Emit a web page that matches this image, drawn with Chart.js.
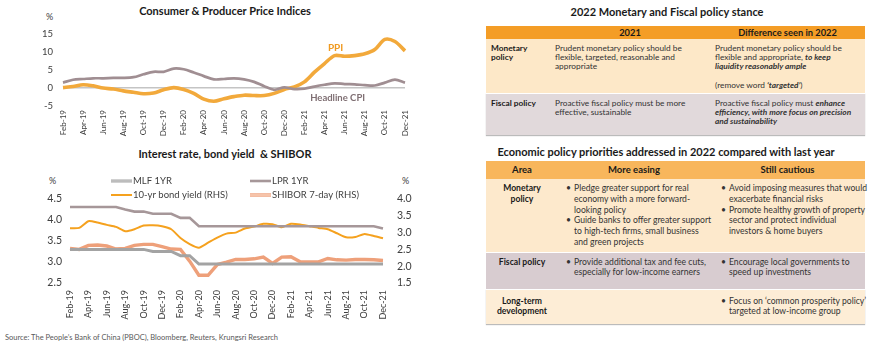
<!DOCTYPE html>
<html>
<head>
<meta charset="utf-8">
<script src="https://cdn.jsdelivr.net/npm/chart.js@4.4.1/dist/chart.umd.min.js"></script>
<style>
  html,body{margin:0;padding:0;background:#fff;}
  body{width:870px;height:348px;position:relative;overflow:hidden;font-family:Lato,'Open Sans',sans-serif;color:#262626;}
  .abs{position:absolute;white-space:nowrap;}
  .ctitle{font-weight:bold;font-size:11px;color:#1a1a1a;text-align:center;}
  .ttitle{font-size:11px;font-weight:bold;color:#1a1a1a;text-align:center;}
  .pct{font-size:9px;color:#404040;}
  table{border-collapse:collapse;table-layout:fixed;position:absolute;}
  td,th{vertical-align:top;white-space:nowrap;padding:0;}
  #tb1 td,#tb1 th{font-size:8.3px;line-height:9.2px;color:#333;}
  #tb1 th{font-size:9.3px;font-weight:bold;color:#1a1a1a;vertical-align:middle;text-align:center;line-height:12px;}
  #tb1 td{padding:5px 0 0 5px;}
  #tb2 td,#tb2 th{font-size:8.6px;line-height:10.8px;color:#333;}
  #tb2 th{font-size:9.5px;font-weight:bold;color:#1a1a1a;vertical-align:middle;text-align:center;}
  #tb2 td.a{text-align:center;font-weight:bold;color:#1a1a1a;padding-top:4px;}
  #tb2 td.c2{padding:4px 0 0 8px;}
  #tb2 td.c3{padding:4px 0 0 11px;}
  .b{position:relative;padding-left:8px;}
  .b span{position:absolute;left:0;top:0;}
</style>
</head>
<body>

<div class="abs ctitle" style="left:15px;top:4px;width:420px;">Consumer &amp; Producer Price Indices</div>
<div class="abs pct" style="left:46px;top:11px;">%</div>
<div class="abs" style="left:0;top:0;width:435px;height:145px;"><canvas id="c1" width="435" height="145"></canvas></div>

<div class="abs ctitle" style="left:15px;top:147px;width:420px;">Interest rate, bond yield &nbsp;&amp; SHIBOR</div>
<div class="abs pct" style="left:49px;top:175px;">%</div>
<div class="abs pct" style="left:402px;top:175px;">%</div>
<div class="abs" style="left:0;top:165px;width:435px;height:160px;"><canvas id="c2" width="435" height="160"></canvas></div>

<div class="abs" style="left:5px;top:333px;font-size:7.5px;color:#595959;">Source: The People’s Bank of China (PBOC), Bloomberg, Reuters, Krungsri Research</div>

<div class="abs ttitle" style="left:450px;top:5px;width:434px;">2022 Monetary and Fiscal policy stance</div>
<table id="tb1" style="left:486px;top:26px;width:379px;">
  <colgroup><col style="width:64px"><col style="width:160px"><col style="width:155px"></colgroup>
  <tr style="height:13px;background:#f49d26;"><th></th><th>2021</th><th>Difference seen in 2022</th></tr>
  <tr style="height:54px;background:#fde8c8;">
    <td><b style="color:#1a1a1a">Monetary<br>policy</b></td>
    <td>Prudent monetary policy should be<br>flexible, targeted, reasonable and<br>appropriate</td>
    <td>Prudent monetary policy should be<br>flexible and appropriate, <b><i>to keep</i></b><br><b><i>liquidity reasonably ample</i></b><br><br>(remove word <b><i>‘targeted’</i></b>)</td>
  </tr>
  <tr style="height:42px;background:#e1d9db;border-top:1px solid #fff;box-shadow:0 1px 1px #bbb;">
    <td><b style="color:#1a1a1a">Fiscal policy</b></td>
    <td>Proactive fiscal policy must be more<br>effective, sustainable</td>
    <td>Proactive fiscal policy must <b><i>enhance</i></b><br><b><i>efficiency, with more focus on precision</i></b><br><b><i>and sustainability</i></b></td>
  </tr>
</table>

<div class="abs ttitle" style="left:449px;top:145px;width:434px;">Economic policy priorities addressed in 2022 compared with last year</div>
<table id="tb2" style="left:486px;top:161px;width:379px;">
  <colgroup><col style="width:72px"><col style="width:152px"><col style="width:155px"></colgroup>
  <tr style="height:18px;background:#f8b65c;"><th>Area</th><th>More easing</th><th>Still cautious</th></tr>
  <tr style="height:73px;background:#fde9cc;">
    <td class="a">Monetary<br>policy</td>
    <td class="c2"><div class="b"><span>•</span>Pledge greater support for real<br>economy with a more forward-<br>looking policy</div><div class="b"><span>•</span>Guide banks to offer greater support<br>to high-tech firms, small business<br>and green projects</div></td>
    <td class="c3"><div class="b"><span>•</span>Avoid imposing measures that would<br>exacerbate financial risks</div><div class="b"><span>•</span>Promote healthy growth of property<br>sector and protect individual<br>investors &amp; home buyers</div></td>
  </tr>
  <tr style="height:37px;background:#d8ccd0;border-top:1px solid #fff;">
    <td class="a">Fiscal policy</td>
    <td class="c2"><div class="b"><span>•</span>Provide additional tax and fee cuts,<br>especially for low-income earners</div></td>
    <td class="c3"><div class="b"><span>•</span>Encourage local governments to<br>speed up investments</div></td>
  </tr>
  <tr style="height:35px;background:#fdedd6;border-top:1px solid #fff;box-shadow:0 1px 1px #bbb;">
    <td class="a" style="padding-top:6px;">Long-term<br>development</td>
    <td class="c2"></td>
    <td class="c3" style="padding-top:6px;"><div class="b"><span>•</span>Focus on ‘common prosperity policy’<br>targeted at low-income group</div></td>
  </tr>
</table>

<script>
// ---------- DATA ----------
const months = ['Feb-19','Mar-19','Apr-19','May-19','Jun-19','Jul-19','Aug-19','Sep-19','Oct-19','Nov-19','Dec-19',
  'Jan-20','Feb-20','Mar-20','Apr-20','May-20','Jun-20','Jul-20','Aug-20','Sep-20','Oct-20','Nov-20','Dec-20',
  'Jan-21','Feb-21','Mar-21','Apr-21','May-21','Jun-21','Jul-21','Aug-21','Sep-21','Oct-21','Nov-21','Dec-21'];

const headlineCPI = [1.5,2.3,2.5,2.7,2.7,2.8,2.8,3.0,3.8,4.5,4.5,
  5.4,5.2,4.3,3.3,2.4,2.5,2.7,2.4,1.7,0.5,-0.5,0.2,
  -0.3,-0.2,0.4,0.9,1.3,1.1,1.0,0.8,0.7,1.5,2.3,1.5];
const ppi = [0.1,0.4,0.9,0.6,0.0,-0.3,-0.8,-1.2,-1.6,-1.4,-0.5,
  0.1,-0.4,-1.5,-3.1,-3.7,-3.0,-2.4,-2.0,-2.1,-2.1,-1.5,-0.4,
  0.3,1.7,4.4,6.8,9.0,8.8,9.0,9.5,10.7,13.5,12.9,10.3];

const mlf1yr = [3.30,3.30,3.30,3.30,3.30,3.30,3.30,3.30,3.30,3.25,3.25,
  3.25,3.15,3.15,2.95,2.95,2.95,2.95,2.95,2.95,2.95,2.95,2.95,
  2.95,2.95,2.95,2.95,2.95,2.95,2.95,2.95,2.95,2.95,2.95,2.95];
const lpr1yr = [4.31,4.31,4.31,4.31,4.31,4.31,4.25,4.20,4.20,4.15,4.15,
  4.15,4.05,4.05,3.85,3.85,3.85,3.85,3.85,3.85,3.85,3.85,3.85,
  3.85,3.85,3.85,3.85,3.85,3.85,3.85,3.85,3.85,3.85,3.85,3.80];
const bond10y = [3.13,3.14,3.34,3.30,3.23,3.17,3.04,3.10,3.21,3.22,3.19,
  3.10,2.84,2.66,2.55,2.70,2.85,2.97,3.00,3.12,3.18,3.26,3.25,
  3.16,3.26,3.24,3.19,3.14,3.10,2.98,2.86,2.87,2.96,2.90,2.83];
const shibor7d = [2.53,2.50,2.62,2.63,2.60,2.51,2.53,2.62,2.65,2.65,2.58,
  2.51,2.50,2.15,1.73,1.73,2.05,2.12,2.20,2.20,2.22,2.27,2.08,
  2.27,2.28,2.13,2.13,2.13,2.23,2.19,2.18,2.20,2.20,2.19,2.17];

const ticksCPI = [-5,0,5,10,15];
const ticksRateL = [2.5,3.0,3.5,4.0,4.5];
const ticksRateR = [1.5,2.0,2.5,3.0,3.5,4.0];

// ---------- COMMON ----------
Chart.defaults.font.family = "Lato, 'Open Sans', sans-serif";
Chart.defaults.color = '#404040';
Chart.defaults.animation = false;

function xAxis(fontSize, pad, h){
  return {
    type:'category', offset:false,
    grid:{display:false, drawTicks:false}, border:{display:false},
    ticks:{autoSkip:false, maxRotation:90, minRotation:90, padding:pad, font:{size:fontSize}, color:'#404040',
      callback:function(v,i){ return i%2===0 ? this.getLabelForValue(v) : ''; }},
    afterFit:(s)=>{ s.height = h; }
  };
}

// annotation plugin: text at data coordinates
const dataText = {
  id:'dataText',
  afterDatasetsDraw(chart, args, opts){
    const items = opts.items || [];
    const ctx = chart.ctx;
    items.forEach(it=>{
      const x = chart.scales.x.getPixelForValue(it.i);
      const y = chart.scales[it.axis||'y'].getPixelForValue(it.v);
      ctx.save();
      ctx.font = 'bold ' + it.size + "px Lato, 'Open Sans', sans-serif";
      ctx.fillStyle = it.color; ctx.textAlign='center'; ctx.textBaseline='middle';
      ctx.fillText(it.text, x, y);
      ctx.restore();
    });
  }
};

// custom legend plugin reading dataset labels/colours
const miniLegend = {
  id:'miniLegend',
  afterDraw(chart, args, opts){
    const ctx = chart.ctx;
    (opts.items||[]).forEach(it=>{
      const ds = chart.data.datasets[it.ds];
      ctx.save();
      ctx.lineCap='butt';
      ctx.strokeStyle = ds.borderColor; ctx.lineWidth = ds.borderWidth;
      ctx.beginPath(); ctx.moveTo(it.x, it.y); ctx.lineTo(it.x+21, it.y); ctx.stroke();
      if (it.inner!==undefined){
        const d2 = chart.data.datasets[it.inner];
        ctx.strokeStyle = d2.borderColor; ctx.lineWidth = d2.borderWidth;
        ctx.beginPath(); ctx.moveTo(it.x, it.y); ctx.lineTo(it.x+21, it.y); ctx.stroke();
      }
      ctx.fillStyle='#404040';
      ctx.font = "9.5px Lato, 'Open Sans', sans-serif";
      ctx.textBaseline='middle'; ctx.textAlign='left';
      ctx.fillText(ds.label, it.x+22, it.y);
      ctx.restore();
    });
  }
};

// ---------- CHART 1 ----------
new Chart(document.getElementById('c1'), {
  type:'line',
  data:{
    labels: months,
    datasets:[
      {label:'Headline CPI', data:headlineCPI, borderColor:'#a08e92', borderWidth:2.7, pointRadius:0, tension:0.3},
      {label:'PPI', data:ppi, borderColor:'#f2a93b', borderWidth:3.6, pointRadius:0, tension:0.3},
      {label:'PPI inner', data:ppi, borderColor:'#fde5b6', borderWidth:1.2, pointRadius:0, tension:0.3}
    ]
  },
  options:{
    responsive:false,
    layout:{padding:{top:34, right:30, left:0, bottom:0}},
    plugins:{legend:{display:false}, tooltip:{enabled:false}, title:{display:false},
      dataText:{items:[
        {text:'PPI', i:27.1, v:11.2, size:10, color:'#f09a20'},
        {text:'Headline CPI', i:27.3, v:-2.8, size:9.5, color:'#7f6f73'}
      ]}},
    scales:{
      x: xAxis(8, 4, 39),
      y:{min:-5, max:15,
        afterBuildTicks:(s)=>{ s.ticks = ticksCPI.map(v=>({value:v})); },
        ticks:{padding:10, font:{size:9.5}, color:'#404040'},
        grid:{drawTicks:false, lineWidth:1.5, color:(c)=> c.tick && c.tick.value===0 ? '#c4c4c4' : 'rgba(0,0,0,0)'},
        border:{display:false},
        afterFit:(s)=>{ s.width = 63; }
      }
    }
  },
  plugins:[dataText]
});

// ---------- CHART 2 ----------
new Chart(document.getElementById('c2'), {
  type:'line',
  data:{
    labels: months,
    datasets:[
      {label:'MLF 1YR', data:mlf1yr, yAxisID:'y', borderColor:'#a3a3a3', borderWidth:3, pointRadius:0, tension:0},
      {label:'MLF inner', data:mlf1yr, yAxisID:'y', borderColor:'#d6d6d6', borderWidth:1, pointRadius:0, tension:0},
      {label:'LPR 1YR', data:lpr1yr, yAxisID:'y', borderColor:'#a69799', borderWidth:2.6, pointRadius:0, tension:0},
      {label:'10-yr bond yield (RHS)', data:bond10y, yAxisID:'y1', borderColor:'#f5a11e', borderWidth:2, pointRadius:0, tension:0.2},
      {label:'SHIBOR 7-day (RHS)', data:shibor7d, yAxisID:'y1', borderColor:'#eea07a', borderWidth:3.4, pointRadius:0, tension:0},
      {label:'SHIBOR inner', data:shibor7d, yAxisID:'y1', borderColor:'#fde2d2', borderWidth:1.1, pointRadius:0, tension:0}
    ]
  },
  options:{
    responsive:false,
    layout:{padding:{top:34, right:0, left:0, bottom:0}},
    plugins:{legend:{display:false}, tooltip:{enabled:false}, title:{display:false},
      miniLegend:{items:[
        {ds:0, inner:1, x:111, y:16},
        {ds:2, x:250, y:16},
        {ds:3, x:111, y:30},
        {ds:4, inner:5, x:250, y:30}
      ]}},
    scales:{
      x: xAxis(9, 7, 42),
      y:{position:'left', min:2.5, max:4.5,
        afterBuildTicks:(s)=>{ s.ticks = ticksRateL.map(v=>({value:v})); },
        ticks:{padding:8, font:{size:10.5}, color:'#404040', callback:(v)=>Number(v).toFixed(1)},
        grid:{display:false, drawTicks:false}, border:{display:false},
        afterFit:(s)=>{ s.width = 70; }
      },
      y1:{position:'right', min:1.5, max:4.0,
        afterBuildTicks:(s)=>{ s.ticks = ticksRateR.map(v=>({value:v})); },
        ticks:{padding:14, font:{size:10.5}, color:'#404040', callback:(v)=>Number(v).toFixed(1)},
        grid:{display:false, drawTicks:false}, border:{display:false},
        afterFit:(s)=>{ s.width = 52; }
      }
    }
  },
  plugins:[miniLegend]
});
</script>
</body>
</html>
